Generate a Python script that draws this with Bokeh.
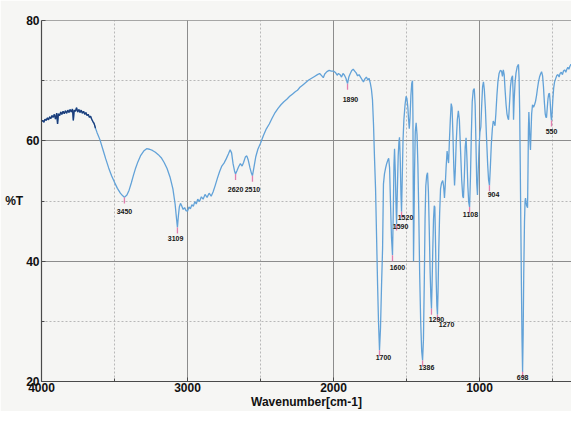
from bokeh.plotting import figure
from bokeh.models import Range1d, FixedTicker, Span, ColumnDataSource
from bokeh.core.properties import value
from bokeh.embed import file_html
from bokeh.resources import INLINE

# ---- data ----
wavenumber = [
    4000, 3992, 3984, 3976, 3968, 3960, 3952, 3944, 3936, 3928, 3920, 3912, 3904, 3896, 3890, 3884,
    3876, 3868, 3860, 3852, 3844, 3836, 3828, 3820, 3812, 3804, 3796, 3788, 3782, 3776, 3768, 3760,
    3752, 3744, 3736, 3728, 3720, 3712, 3704, 3696, 3688, 3680, 3672, 3664, 3656, 3648, 3640, 3630,
    3620, 3600, 3580, 3560, 3540, 3520, 3500, 3480, 3460, 3445, 3432, 3415, 3400, 3385, 3370, 3355,
    3340, 3320, 3300, 3280, 3260, 3240, 3220, 3200, 3180, 3160, 3140, 3120, 3100, 3085, 3075, 3069,
    3063, 3056, 3048, 3040, 3030, 3020, 3010, 3000, 2990, 2980, 2970, 2960, 2950, 2940, 2930, 2918,
    2905, 2893, 2880, 2866, 2852, 2838, 2825, 2810, 2795, 2780, 2765, 2750, 2735, 2720, 2708, 2698,
    2688, 2678, 2671, 2662, 2650, 2638, 2626, 2616, 2604, 2594, 2584, 2572, 2562, 2555, 2545, 2532,
    2518, 2500, 2480, 2460, 2440, 2420, 2400, 2380, 2360, 2340, 2320, 2300, 2280, 2260, 2247, 2230,
    2210, 2190, 2170, 2150, 2130, 2110, 2095, 2080, 2070, 2060, 2045, 2030, 2015, 2000, 1985, 1975,
    1966, 1955, 1945, 1935, 1925, 1915, 1904, 1895, 1885, 1875, 1865, 1855, 1845, 1835, 1825, 1815,
    1805, 1795, 1785, 1775, 1765, 1757, 1748, 1740, 1733, 1726, 1719, 1712, 1705, 1698, 1692, 1685,
    1678, 1671, 1664, 1658, 1651, 1644, 1636, 1628, 1622, 1616, 1610, 1603, 1596, 1590, 1586, 1582,
    1577, 1572, 1568, 1563, 1557, 1552, 1548, 1543, 1538, 1534, 1529, 1524, 1518, 1510, 1503, 1497,
    1491, 1486, 1481, 1476, 1470, 1464, 1459, 1456, 1454, 1452, 1449, 1445, 1440, 1434, 1428, 1422,
    1416, 1410, 1403, 1396, 1390, 1384, 1378, 1373, 1368, 1362, 1356, 1350, 1344, 1338, 1333, 1329,
    1325, 1320, 1315, 1310, 1306, 1302, 1297, 1292, 1288, 1284, 1279, 1273, 1267, 1260, 1252, 1246,
    1240, 1235, 1229, 1222, 1216, 1212, 1207, 1200, 1194, 1188, 1182, 1176, 1171, 1166, 1160, 1152,
    1145, 1138, 1130, 1122, 1115, 1110, 1104, 1098, 1092, 1086, 1080, 1074, 1068, 1062, 1056, 1050,
    1043, 1036, 1030, 1024, 1019, 1014, 1009, 1003, 997, 991, 985, 979, 973, 967, 960, 952,
    944, 938, 932, 926, 919, 912, 906, 900, 894, 888, 881, 874, 866, 858, 849, 843,
    837, 831, 825, 818, 812, 806, 801, 795, 788, 781, 774, 770, 767, 763, 757, 750,
    742, 733, 729, 725, 721, 717, 713, 709, 705, 701, 697, 692, 688, 685, 681, 677,
    671, 668, 665, 662, 659, 655, 651, 647, 643, 637, 630, 623, 616, 609, 603, 596,
    589, 582, 575, 568, 562, 556, 550, 545, 541, 536, 531, 526, 521, 516, 511, 507,
    503, 498, 492, 486, 479, 470, 462, 455, 448, 440, 432, 425, 417, 409, 402, 395,
    388, 381, 374, 367,
]
transmittance = [
    63.2, 63.4, 63.1, 63.6, 63.4, 63.8, 63.5, 64.0, 63.7, 64.2, 63.9, 64.4, 63.6, 64.6, 62.8, 64.5,
    64.2, 64.8, 64.4, 64.9, 64.5, 65.0, 64.6, 65.1, 64.7, 65.2, 64.8, 65.3, 63.4, 65.1, 64.9, 65.5,
    64.8, 65.2, 64.7, 65.1, 64.6, 64.9, 64.4, 64.7, 64.2, 64.4, 63.9, 64.1, 63.6, 63.2, 62.9, 62.1,
    61.4, 60.2, 58.6, 57.0, 55.5, 54.2, 53.1, 52.1, 51.3, 50.9, 50.6, 51.0, 51.8, 53.0, 54.3, 55.5,
    56.5, 57.6, 58.3, 58.7, 58.6, 58.4, 58.1, 57.7, 57.2, 56.4, 55.4, 54.0, 52.0, 49.5, 47.0, 45.6,
    47.4, 49.0, 49.6, 49.2, 48.6, 48.9, 48.4, 48.3, 49.0, 48.7, 49.4, 49.1, 49.9, 49.5, 50.3, 49.9,
    50.7, 50.3, 51.1, 50.6, 51.3, 50.8, 51.5, 52.6, 53.8, 54.9, 55.8, 56.3, 57.0, 57.8, 58.5, 58.0,
    56.2, 55.0, 54.5, 55.0, 55.7, 56.2, 55.8, 56.4, 57.3, 57.5, 56.8, 55.5, 54.6, 54.2, 55.6, 57.4,
    58.6, 59.6, 60.9, 62.0, 62.8, 63.8, 64.7, 65.4, 66.0, 66.5, 66.9, 67.4, 67.8, 68.2, 68.4, 68.9,
    69.3, 69.7, 70.1, 70.4, 70.7, 71.0, 71.2, 70.8, 70.5, 71.1, 71.5, 71.7, 71.6, 71.6, 71.3, 70.9,
    71.2, 71.0, 70.6, 71.2, 70.9, 70.4, 69.5, 70.6, 71.2, 71.7, 71.9, 71.6, 71.3, 70.8, 71.0, 70.6,
    70.2, 69.8, 70.3, 70.6, 70.1, 70.4, 69.6, 68.5, 66.8, 62.7, 57.0, 52.0, 44.0, 36.0, 30.0, 25.2,
    29.0, 36.0, 42.0, 52.8, 54.5, 55.4, 56.2, 56.8, 57.1, 55.5, 50.0, 44.0, 41.0, 49.0, 56.0, 58.7,
    55.0, 49.5, 46.1, 51.5, 57.5, 59.8, 60.6, 57.0, 51.0, 48.2, 54.0, 60.0, 63.5, 66.0, 67.4, 67.0,
    65.6, 63.6, 62.0, 63.8, 67.5, 69.6, 70.0, 64.0, 52.0, 40.0, 46.0, 55.0, 61.5, 63.0, 61.0, 56.0,
    48.0, 38.0, 30.0, 25.0, 23.5, 27.0, 37.0, 47.0, 52.5, 54.2, 54.7, 51.5, 45.0, 38.0, 34.0, 32.1,
    36.0, 42.0, 47.0, 49.2, 49.0, 44.0, 37.0, 32.5, 31.1, 35.0, 42.0, 48.0, 52.0, 53.0, 53.4, 52.5,
    50.5, 52.5, 55.5, 58.3, 57.0, 56.3, 59.5, 63.5, 66.2, 65.5, 61.0, 55.5, 52.6, 55.0, 59.5, 63.5,
    65.0, 63.5, 58.5, 53.5, 50.8, 50.5, 54.0, 59.0, 60.5, 57.0, 52.5, 49.8, 49.0, 54.0, 61.0, 66.5,
    68.4, 68.7, 66.0, 59.0, 53.0, 51.0, 55.0, 59.0, 61.5, 62.3, 66.0, 69.0, 69.8, 68.5, 65.5, 60.5,
    56.0, 53.5, 52.6, 55.5, 59.5, 62.0, 63.3, 63.0, 62.5, 64.5, 67.5, 69.8, 71.2, 71.7, 71.6, 70.7,
    71.8, 71.0, 68.5, 66.0, 64.5, 63.8, 63.5, 66.0, 69.0, 70.4, 70.8, 68.0, 63.5, 66.5, 69.5, 71.3,
    72.3, 72.7, 70.5, 65.0, 56.0, 46.0, 36.0, 27.0, 21.6, 28.0, 38.0, 46.5, 50.0, 50.5, 49.8, 49.2,
    48.9, 55.0, 62.0, 64.8, 63.0, 60.0, 58.5, 61.5, 64.5, 66.0, 65.6, 66.0, 66.6, 67.6, 68.7, 69.8,
    70.6, 71.1, 71.5, 70.8, 69.0, 66.5, 64.5, 63.9, 63.9, 65.5, 67.0, 67.8, 67.9, 66.5, 64.2, 63.4,
    64.5, 66.8, 68.8, 69.8, 70.3, 70.9, 71.0, 70.6, 71.2, 71.4, 71.0, 71.6, 71.8, 71.4, 71.9, 72.2,
    71.9, 72.4, 72.7, 72.5,
]

peak_labels = ["3450", "3109", "2620", "2510", "1890", "1700", "1600", "1590",
               "1520", "1386", "1290", "1270", "1108", "904", "698", "550"]
peak_wn = [3432, 3069, 2671, 2555, 1904, 1685, 1596, 1568, 1534, 1390, 1329, 1288, 1068, 932, 705, 507]
peak_T = [50.6, 45.6, 54.5, 54.2, 69.5, 25.2, 41.0, 46.1, 48.2, 23.5, 32.1, 31.1, 49.0, 52.6, 21.6, 63.4]
label_wn = [3432, 3082, 2671, 2555, 1884, 1658, 1562, 1541, 1507, 1363, 1295, 1226, 1062, 904, 705, 507]
label_T = [48.2, 43.7, 51.9, 51.9, 66.8, 24.0, 39.0, 45.8, 47.3, 22.3, 30.3, 29.4, 47.7, 51.0, 20.6, 61.6]

x_ticks = [4000, 3000, 2000, 1000]
x_minor = [3500, 2500, 1500, 500]
y_ticks = [20, 40, 60, 80]
y_minor = [30, 50, 70]

FONT = "Liberation Sans"

p = figure(width=571, height=411, output_backend="svg", toolbar_location=None,
           x_range=Range1d(4000, 370), y_range=Range1d(20, 80),
           min_border_left=41, min_border_right=0, min_border_top=20, min_border_bottom=26)

p.background_fill_color = "#f5f5f3"
p.border_fill_color = "#f6f6f4"
p.outline_line_color = None

xt = FixedTicker(ticks=x_ticks, minor_ticks=x_minor)
yt = FixedTicker(ticks=y_ticks, minor_ticks=y_minor)
p.xaxis.ticker = xt
p.yaxis.ticker = yt
p.xgrid.ticker = xt
p.ygrid.ticker = yt

for ax in (p.xaxis[0], p.yaxis[0]):
    ax.axis_line_color = "#4a4a4a"
    ax.axis_line_width = 1.2
    ax.major_tick_in = 4
    ax.major_tick_out = 0
    ax.minor_tick_in = 3
    ax.minor_tick_out = 0
    ax.major_tick_line_color = "#4a4a4a"
    ax.minor_tick_line_color = "#4a4a4a"
    ax.major_label_text_font = FONT
    ax.major_label_text_font_style = "bold"
    ax.major_label_text_font_size = "12px"
    ax.major_label_text_color = "#111111"
    ax.axis_label_text_font = FONT
    ax.axis_label_text_font_style = "bold"
    ax.axis_label_text_font_size = "12px"
    ax.axis_label_text_color = "#111111"
    ax.axis_label_standoff = 0

p.xaxis.axis_label = "Wavenumber[cm-1]"
p.xaxis.major_label_standoff = 1
p.yaxis.axis_label = "%T"
p.yaxis.axis_label_orientation = "horizontal"
p.yaxis.major_label_standoff = 2

for g in (p.xgrid[0], p.ygrid[0]):
    g.grid_line_color = "#8c8c8c"
    g.grid_line_width = 1
    g.minor_grid_line_color = "#b8b8b8"
    g.minor_grid_line_dash = "2 2"
    g.minor_grid_line_width = 1

p.add_layout(Span(location=80, dimension="width", line_color="#555555", line_width=1.2))

src = ColumnDataSource(dict(wn=wavenumber, t=transmittance))
p.line("wn", "t", source=src, line_color="#62a2d8", line_width=1.3)

noise_n = sum(1 for w in wavenumber if w >= 3630)
p.line(wavenumber[:noise_n], transmittance[:noise_n], line_color="#1d3c78", line_width=1.3)

p.segment(x0=peak_wn, y0=peak_T, x1=peak_wn, y1=[t - 1.0 for t in peak_T],
          line_color="#e27fae", line_width=1.3)

p.text(x=label_wn, y=label_T, text=peak_labels, text_font=value(FONT),
       text_font_style="bold", text_font_size="7px", text_align="center",
       text_baseline="middle", text_color="#151515")

open("out.html", "w").write(file_html(p, INLINE))
